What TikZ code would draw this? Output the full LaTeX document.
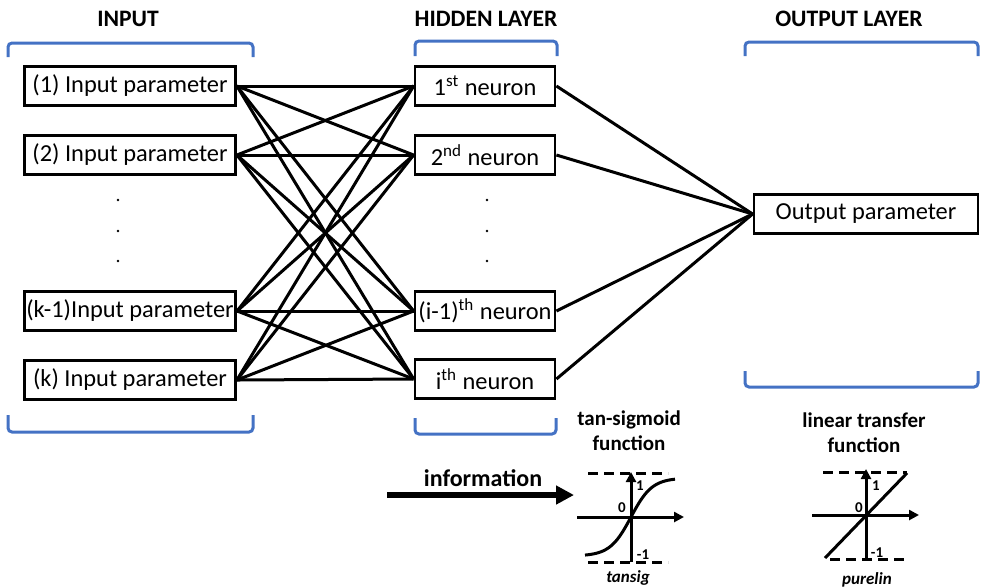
\documentclass[tikz,border=0pt]{standalone}
\usepackage{fontspec}
\setmainfont{Carlito}
\usetikzlibrary{arrows.meta}
\definecolor{brblue}{RGB}{68,114,196}

\begin{document}
\begin{tikzpicture}[
  x=0.5pt, y=-0.5pt,
  unit/.style={draw, line width=1.4pt, inner sep=1pt, minimum height=19.2pt,
    font=\fontsize{12.2}{14}\selectfont},
  inbox/.style={unit, minimum width=105.5pt},
  hidbox/.style={unit, minimum width=70pt},
  outbox/.style={unit, minimum width=112pt},
  heading/.style={font=\fontsize{11.8}{14}\selectfont\bfseries},
  fnlabel/.style={font=\fontsize{10.5}{12.5}\selectfont\bfseries, align=center},
  link/.style={line width=1.5pt},
  bracket/.style={draw=brblue, line width=1.5pt, rounded corners=2pt},
  axis/.style={line width=1.5pt, -{Triangle[length=5pt,width=5pt]}},
  bound/.style={line width=1.5pt, dash pattern=on 5pt off 3pt},
  tick/.style={font=\fontsize{7.5}{9}\selectfont\bfseries, inner sep=0pt},
  fnname/.style={font=\fontsize{8.5}{10}\selectfont\bfseries\itshape},
]
\useasboundingbox (0,0) rectangle (983,586);

% headings and brackets
\node[heading] (t-in) at (128,19) {INPUT};
\node[heading] (t-hid) at (486,19) {HIDDEN LAYER};
\node[heading] (t-out) at (849,19) {OUTPUT LAYER};
\draw[bracket] (8,57) -- (8,43) -- (253,43) -- (253,57);
\draw[bracket] (8,415) -- (8,432) -- (253,432) -- (253,415);
\draw[bracket] (415,56) -- (415,41) -- (557,41) -- (557,56);
\draw[bracket] (415,418) -- (415,434) -- (556,434) -- (556,418);
\draw[bracket] (745,56) -- (745,42) -- (978,42) -- (978,56);
\draw[bracket] (745,371) -- (745,387) -- (978,387) -- (978,371);

% input layer
\node[inbox] (in1) at (130,86) {(1) Input parameter};
\node[inbox] (in2) at (130,155) {(2) Input parameter};
\node[inbox] (in3) at (130,311) {(k-1)Input parameter};
\node[inbox] (in4) at (130,380) {(k) Input parameter};

% hidden layer
\node[hidbox] (hid1) at (485,86) {1\textsuperscript{st} neuron};
\node[hidbox] (hid2) at (485,155) {2\textsuperscript{nd} neuron};
\node[hidbox] (hid3) at (485,311) {(i-1)\textsuperscript{th} neuron};
\node[hidbox] (hid4) at (485,379) {i\textsuperscript{th} neuron};

% output layer
\node[outbox] (out) at (866,214) {Output parameter};

\foreach \y in {200,231,261} {
  \fill (118,\y) circle (1.3);
  \fill (487,\y) circle (1.3);
}

\foreach \i in {1,...,4}
  \foreach \j in {1,...,4}
    \draw[link] (in\i.east) -- (hid\j.west);
\foreach \j in {1,...,4}
  \draw[link] (hid\j.east) -- (out.west);

% information flow
\coordinate (info-s) at (387,495);
\coordinate (info-e) at (574,495);
\draw[line width=2.6pt, -{Triangle[length=9pt,width=9pt]}] (info-s) -- (info-e);
\node[heading, font=\fontsize{12}{14}\selectfont\bfseries] (info) at (483,478) {information};

% tansig
\node[fnlabel] (f-sig) at (629,431) {tan-sigmoid\\function};
\draw[bound] (588,473) -- (668,473);
\draw[bound] (588,562) -- (668,562);
\draw[axis] (631,562) -- (631,472);
\draw[axis] (577,517) -- (684,517);
\draw[line width=1.5pt] plot[domain=-46:44, samples=40, smooth] ({631+\x},{517-39*tanh(\x/21)});
\node[tick] (s-1) at (640,486) {1};
\node[tick] (s-0) at (622,508) {0};
\node[tick] (s-m1) at (643,555) {-1};
\node[fnname] (n-sig) at (628,578) {tansig};

% purelin
\node[fnlabel] (f-lin) at (864,433) {linear transfer\\function};
\draw[bound] (823,472) -- (907,472);
\draw[bound] (830,559) -- (907,559);
\draw[axis] (866,559) -- (866,469);
\draw[axis] (812,515) -- (919,515);
\draw[line width=1.5pt] (825,558) -- (907,473);
\node[tick] (l-1) at (876,486) {1};
\node[tick] (l-0) at (859,508) {0};
\node[tick] (l-m1) at (877,553) {-1};
\node[fnname] (n-lin) at (867,580) {purelin};
\end{tikzpicture}
\end{document}
